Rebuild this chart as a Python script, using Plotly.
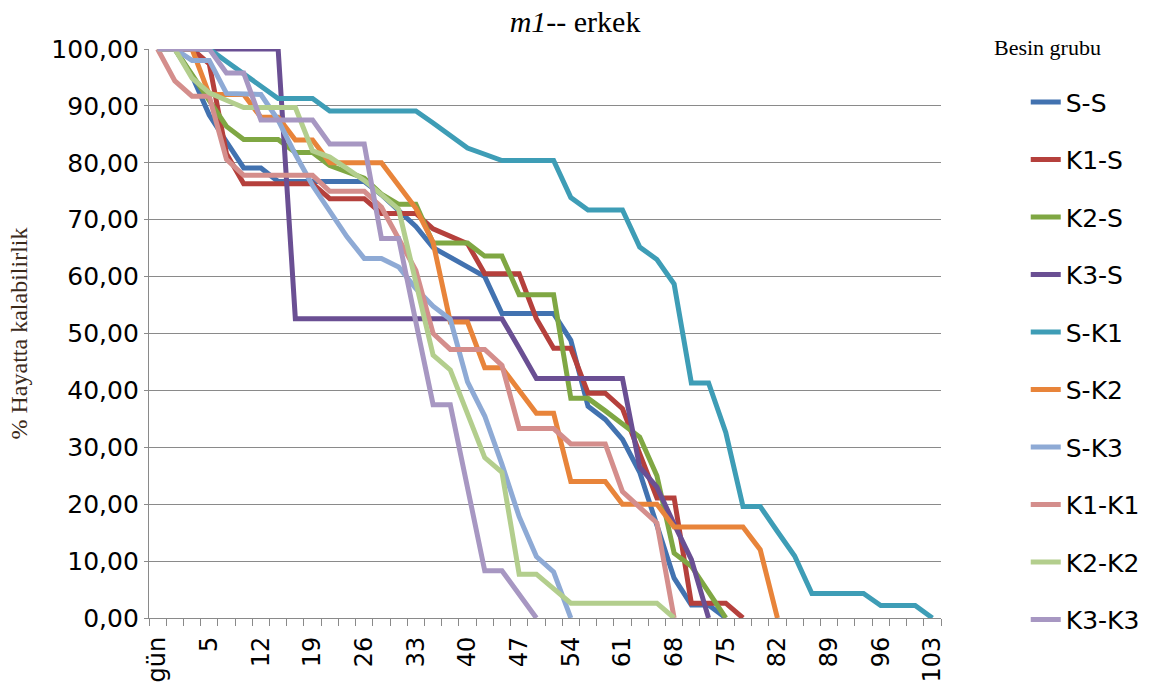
import plotly.graph_objects as go

# Category axis (days); only every third label is shown, as in the reference
days = ["gün", "1", "3", "5", "8", "10", "12", "15", "17", "19", "22", "24", "26", "29", "31",
        "33", "36", "38", "40", "43", "45", "47", "50", "52", "54", "57", "59", "61", "64", "66",
        "68", "71", "73", "75", "78", "80", "82", "85", "87", "89", "92", "94", "96", "99", "101", "103"]
shown_labels = ["gün", "5", "12", "19", "26", "33", "40", "47", "54", "61", "68", "75", "82", "89", "96", "103"]

series_names = ["S-S", "K1-S", "K2-S", "K3-S", "S-K1", "S-K2", "S-K3", "K1-K1", "K2-K2", "K3-K3"]

ss = [100, 100, 95.3, 88.4, 83.7, 79.1, 79.1, 76.7, 76.7, 76.7, 76.7, 76.7, 76.7, 74.4, 71.5, 68.8,
      65.1, 63.5, 61.7, 60.0, 53.5, 53.5, 53.5, 53.5, 48.8, 37.2, 34.9, 31.4, 25.6, 16.3, 7.0, 2.3, 2.3, 0]
k1s = [100, 100, 100, 97.4, 81.6, 76.3, 76.3, 76.3, 76.3, 76.3, 73.7, 73.7, 73.7, 71.1, 71.1, 71.1,
       68.4, 67.0, 65.8, 60.5, 60.5, 60.5, 52.6, 47.4, 47.4, 39.5, 39.5, 36.8, 28.9, 21.1, 21.1,
       2.6, 2.6, 2.6, 0]
k2s = [100, 100, 95.5, 90.9, 86.4, 84.1, 84.1, 84.1, 81.8, 81.8, 79.5, 78.4, 77.3, 74.5, 72.7, 72.7,
       65.9, 65.9, 65.9, 63.6, 63.6, 56.8, 56.8, 56.8, 38.6, 38.6, 36.4, 34.1, 31.8, 25.0, 11.4,
       9.1, 4.5, 0]
k3s = [100, 100, 100, 100, 100, 100, 100, 100, 52.6, 52.6, 52.6, 52.6, 52.6, 52.6, 52.6, 52.6,
       52.6, 52.6, 52.6, 52.6, 52.6, 47.4, 42.1, 42.1, 42.1, 42.1, 42.1, 42.1, 26.5, 23.0, 16.5,
       10.3, 0]
sk1 = [100, 100, 100, 100, 97.8, 95.7, 93.5, 91.3, 91.3, 91.3, 89.1, 89.1, 89.1, 89.1, 89.1, 89.1,
       87.0, 84.8, 82.6, 81.5, 80.4, 80.4, 80.4, 80.4, 73.9, 71.7, 71.7, 71.7, 65.2, 63.0, 58.7,
       41.3, 41.3, 32.6, 19.6, 19.6, 15.2, 10.9, 4.3, 4.3, 4.3, 4.3, 2.2, 2.2, 2.2, 0]
sk2 = [100, 100, 100, 92, 92, 92, 88, 88, 84, 84, 80, 80, 80, 80, 76, 72, 66, 52, 52, 44, 44, 40,
       36, 36, 24, 24, 24, 20, 20, 20, 16, 16, 16, 16, 16, 12, 0]
sk3 = [100, 100, 98, 98, 92.2, 92, 92, 87.5, 81.5, 76, 71.5, 67, 63.2, 63.2, 61.7, 57.9, 54.8,
       52.5, 41.5, 35.5, 27, 17.8, 10.8, 8.1, 0]
k1k1 = [100, 94.4, 91.7, 91.7, 80.6, 77.8, 77.8, 77.8, 77.8, 77.8, 75, 75, 75, 72.2, 66.7, 61.1,
        50, 47.2, 47.2, 47.2, 44.4, 33.3, 33.3, 33.3, 30.6, 30.6, 30.6, 22.2, 19.4, 16.7, 0]
k2k2 = [100, 100, 94.9, 92.3, 91, 89.7, 89.7, 89.7, 89.7, 82.1, 81, 79, 76.9, 74.4, 71.8, 59,
        46.2, 43.6, 35.9, 28.2, 25.6, 7.7, 7.7, 5.1, 2.6, 2.6, 2.6, 2.6, 2.6, 2.6, 0]
k3k3 = [100, 100, 100, 100, 95.8, 95.8, 87.5, 87.5, 87.5, 87.5, 83.3, 83.3, 83.3, 66.7, 66.7, 52,
        37.5, 37.5, 23, 8.3, 8.3, 4.2, 0]

series_values = [ss, k1s, k2s, k3s, sk1, sk2, sk3, k1k1, k2k2, k3k3]
colors = ["#4272B0", "#B5403C", "#7FA743", "#6A4F93", "#3E9DB6",
          "#E8843A", "#8EAAD5", "#D48E8C", "#B3CE8D", "#A797C2"]

y_ticks = [0, 10, 20, 30, 40, 50, 60, 70, 80, 90, 100]

fig = go.Figure()
for name, vals, col in zip(series_names, series_values, colors):
    fig.add_trace(go.Scatter(
        x=days[:len(vals)], y=vals, name=name, mode="lines",
        line=dict(color=col, width=5), legendgroup=name,
    ))

tick_text = [d if d in shown_labels else "" for d in days]

pw, ph = 1157 - 149 - 212, 689 - 49 - 71

fig.update_layout(
    width=1157, height=689,
    margin=dict(l=149, r=212, t=49, b=71),
    paper_bgcolor="white", plot_bgcolor="white",
    separators=",.",
    title=dict(text="<i>m1</i>-- erkek", x=0.497, xref="container", xanchor="center",
               y=1 - 21 / 689, yref="container", yanchor="middle",
               font=dict(family="Liberation Serif", size=30, color="black")),
    showlegend=True,
    legend=dict(
        x=1.107, xanchor="left", y=0.947, yanchor="top",
        font=dict(family="DejaVu Sans", size=25, color="black"),
        tracegroupgap=22, bgcolor="rgba(0,0,0,0)",
    ),
    annotations=[dict(
        text="Besin grubu", x=(996 - 149) / pw, xref="paper", y=1 + (49 - 47) / ph, yref="paper",
        showarrow=False, font=dict(family="Liberation Serif", size=22, color="black"),
        xanchor="left", yanchor="middle",
    )],
    xaxis=dict(
        type="category", categoryorder="array", categoryarray=days,
        range=[-0.5, len(days) - 0.5],
        tickmode="array", tickvals=days, ticktext=tick_text,
        tickson="boundaries", ticks="outside", ticklen=7, tickcolor="#8a8a8a", tickwidth=1.3,
        tickangle=-90, ticklabelstandoff=8, automargin=False,
        tickfont=dict(family="DejaVu Sans", size=24, color="black"),
        showgrid=False, showline=True, linecolor="#8a8a8a", linewidth=1.3,
        zeroline=False,
    ),
    yaxis=dict(
        range=[0, 100], tickmode="array", tickvals=y_ticks, tickformat=".2f",
        ticks="outside", ticklen=4, tickcolor="#8a8a8a", tickwidth=1.3,
        tickfont=dict(family="DejaVu Sans", size=25, color="black"),
        showgrid=True, gridcolor="#8a8a8a", gridwidth=1.3,
        showline=True, linecolor="#8a8a8a", linewidth=1.3,
        zeroline=False, automargin=False,
        title=dict(text="% Hayatta kalabilirlik", standoff=16,
                   font=dict(family="Liberation Serif", size=24, color="#3b2a1a")),
    ),
)

fig.write_html("out.html")
